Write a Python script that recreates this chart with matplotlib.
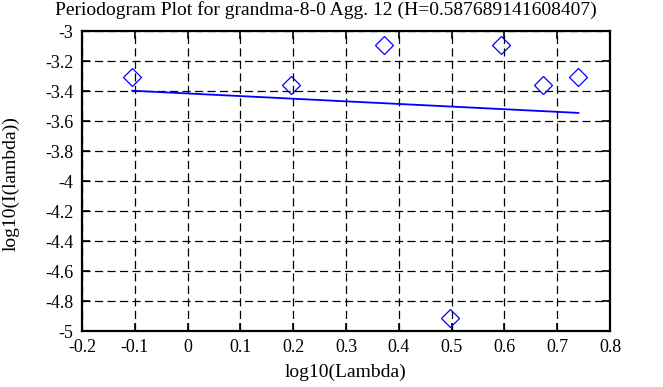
import numpy as np
import matplotlib
matplotlib.use("Agg")
import matplotlib.pyplot as plt

title = "Periodogram Plot for grandma-8-0 Agg. 12 (H=0.587689141608407)"

# periodogram points: log10(lambda), log10(I(lambda))
log_lambda = [-0.1049, 0.1961, 0.3722, 0.4972, 0.5941, 0.6732, 0.7402]
log_I = [-3.309, -3.358, -3.091, -4.911, -3.091, -3.360, -3.305]

# fitted line endpoints
fit_x = [-0.1049, 0.7402]
fit_y = [-3.398, -3.546]

xticks = [-0.2, -0.1, 0, 0.1, 0.2, 0.3, 0.4, 0.5, 0.6, 0.7, 0.8]
xtick_labels = ["-0.2", "-0.1", "0", "0.1", "0.2", "0.3", "0.4", "0.5", "0.6", "0.7", "0.8"]
yticks = [-5, -4.8, -4.6, -4.4, -4.2, -4, -3.8, -3.6, -3.4, -3.2, -3]
ytick_labels = ["-5", "-4.8", "-4.6", "-4.4", "-4.2", "-4", "-3.8", "-3.6", "-3.4", "-3.2", "-3"]

plt.rcParams["font.family"] = ["Liberation Serif", "DejaVu Serif"]

fig = plt.figure(figsize=(6.63, 3.87), dpi=100)
ax = fig.add_axes([82 / 663, 1 - 331 / 387, (610 - 82) / 663, (331 - 31) / 387])

ax.plot(log_lambda, log_I, linestyle="none", marker="D", markersize=9,
        markerfacecolor="none", markeredgecolor="#0000ff", markeredgewidth=0.9, zorder=3)
ax.plot(fit_x, fit_y, color="#0000ff", linewidth=1.3, zorder=3)

ax.set_xlim(-0.2, 0.8)
ax.set_ylim(-5, -3)
ax.set_xticks(xticks)
ax.set_xticklabels(xtick_labels)
ax.set_yticks(yticks)
ax.set_yticklabels(ytick_labels)
ax.tick_params(direction="in", length=6, width=1.2, top=True, right=True,
               labelsize=13, pad=6, colors="black")
ax.grid(True, color="black", linestyle=(0, (6.5, 3.5)), linewidth=0.9)
for s in ax.spines.values():
    s.set_linewidth(1.6)

fig.text(326 / 663, 1 - 1 / 387, title, fontsize=14, ha="center", va="top")
ax.set_xlabel("log10(Lambda)", fontsize=14, labelpad=5)
ax.set_ylabel("log10(I(lambda))", fontsize=14)
ax.yaxis.set_label_coords(-0.119, 0.49)

fig.savefig("out.png", dpi=100)
